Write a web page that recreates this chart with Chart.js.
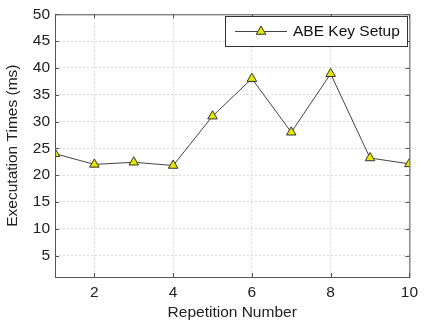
<!DOCTYPE html>
<html>
<head>
<meta charset="utf-8">
<script src="https://cdn.jsdelivr.net/npm/chart.js@4"></script>
<style>
  body { margin: 0; background: #fff; }
  #wrap { width: 424px; height: 327px; }
</style>
</head>
<body>
<div id="wrap"><canvas id="chart"></canvas></div>
<script>
const repetitions = [1, 2, 3, 4, 5, 6, 7, 8, 9, 10];
const keySetupTimes = [24, 22, 22.4, 21.8, 31, 38, 28, 38.9, 23.2, 22.1];
const xTicks = [2, 4, 6, 8, 10];
const yTicks = [5, 10, 15, 20, 25, 30, 35, 40, 45, 50];
const seriesLabel = 'ABE Key Setup';

const axisColor = '#555555';
const lineColor = '#444444';
const markerFill = '#e6e600';
const fontFamily = '"Liberation Sans", Arial, sans-serif';
const fontSize = 15.5;

// box around plot, inward ticks on all four sides, legend inside the plot
const framePlugin = {
    id: 'frame',
    afterDraw(chart) {
        const { ctx, chartArea: a, scales } = chart;
        ctx.save();
        ctx.strokeStyle = axisColor;
        ctx.lineWidth = 1;
        ctx.strokeRect(a.left + 0.5, a.top + 0.5, a.right - a.left, a.bottom - a.top);
        const len = 4;
        ctx.beginPath();
        xTicks.forEach(v => {
            const x = Math.round(scales.x.getPixelForValue(v)) + 0.5;
            ctx.moveTo(x, a.bottom); ctx.lineTo(x, a.bottom - len);
            ctx.moveTo(x, a.top); ctx.lineTo(x, a.top + len);
        });
        yTicks.forEach(v => {
            const y = Math.round(scales.y.getPixelForValue(v)) + 0.5;
            ctx.moveTo(a.left, y); ctx.lineTo(a.left + len, y);
            ctx.moveTo(a.right, y); ctx.lineTo(a.right - len, y);
        });
        ctx.stroke();

        // legend
        const bx = 225, by = 16, bw = 182, bh = 30;
        ctx.fillStyle = '#fff';
        ctx.fillRect(bx, by, bw, bh);
        ctx.strokeStyle = '#333';
        ctx.strokeRect(bx + 0.5, by + 0.5, bw, bh);
        const cy = by + bh / 2 + 0.5;
        ctx.strokeStyle = lineColor;
        ctx.beginPath();
        ctx.moveTo(235, cy); ctx.lineTo(287, cy);
        ctx.stroke();
        const r = 5.5;
        ctx.beginPath();
        ctx.moveTo(261, cy - r);
        ctx.lineTo(261 + r * 0.866, cy + r / 2);
        ctx.lineTo(261 - r * 0.866, cy + r / 2);
        ctx.closePath();
        ctx.fillStyle = markerFill;
        ctx.fill();
        ctx.strokeStyle = '#333';
        ctx.stroke();
        ctx.fillStyle = '#111';
        ctx.font = fontSize + 'px ' + fontFamily;
        ctx.textBaseline = 'middle';
        ctx.fillText(seriesLabel, 293, cy);
        ctx.restore();
    }
};

new Chart(document.getElementById('chart'), {
    type: 'line',
    data: {
        datasets: [{
            label: seriesLabel,
            data: repetitions.map((r, i) => ({ x: r, y: keySetupTimes[i] })),
            borderColor: lineColor,
            borderWidth: 1,
            pointStyle: 'triangle',
            pointRadius: 5.5,
            pointBackgroundColor: markerFill,
            pointBorderColor: '#333',
            pointBorderWidth: 1,
            tension: 0
        }]
    },
    options: {
        responsive: true,
        maintainAspectRatio: false,
        animation: false,
        layout: { padding: { top: 7, right: 11, left: 0, bottom: 0 } },
        plugins: {
            legend: { display: false },
            tooltip: { enabled: false }
        },
        scales: {
            x: {
                type: 'linear',
                min: 1,
                max: 10,
                afterBuildTicks: s => { s.ticks = xTicks.map(v => ({ value: v })); },
                afterFit: s => { s.height = 50; },
                grid: { color: '#d8d8d8', drawTicks: false },
                border: { display: false, dash: [2, 2] },
                ticks: { color: '#222', padding: 6, font: { size: fontSize, family: fontFamily } },
                title: {
                    display: true,
                    text: 'Repetition Number',
                    color: '#222',
                    padding: { top: 0, bottom: 5 },
                    font: { size: fontSize, family: fontFamily }
                }
            },
            y: {
                min: 1,
                max: 50,
                afterBuildTicks: s => { s.ticks = yTicks.map(v => ({ value: v })); },
                afterFit: s => { s.width = 55; },
                grid: { color: '#d8d8d8', drawTicks: false },
                border: { display: false, dash: [2, 2] },
                ticks: { color: '#222', padding: 5, font: { size: fontSize, family: fontFamily } },
                title: {
                    display: true,
                    text: 'Executation Times (ms)',
                    color: '#222',
                    padding: { top: 3, bottom: 0 },
                    font: { size: fontSize, family: fontFamily }
                }
            }
        }
    },
    plugins: [framePlugin]
});
</script>
</body>
</html>
